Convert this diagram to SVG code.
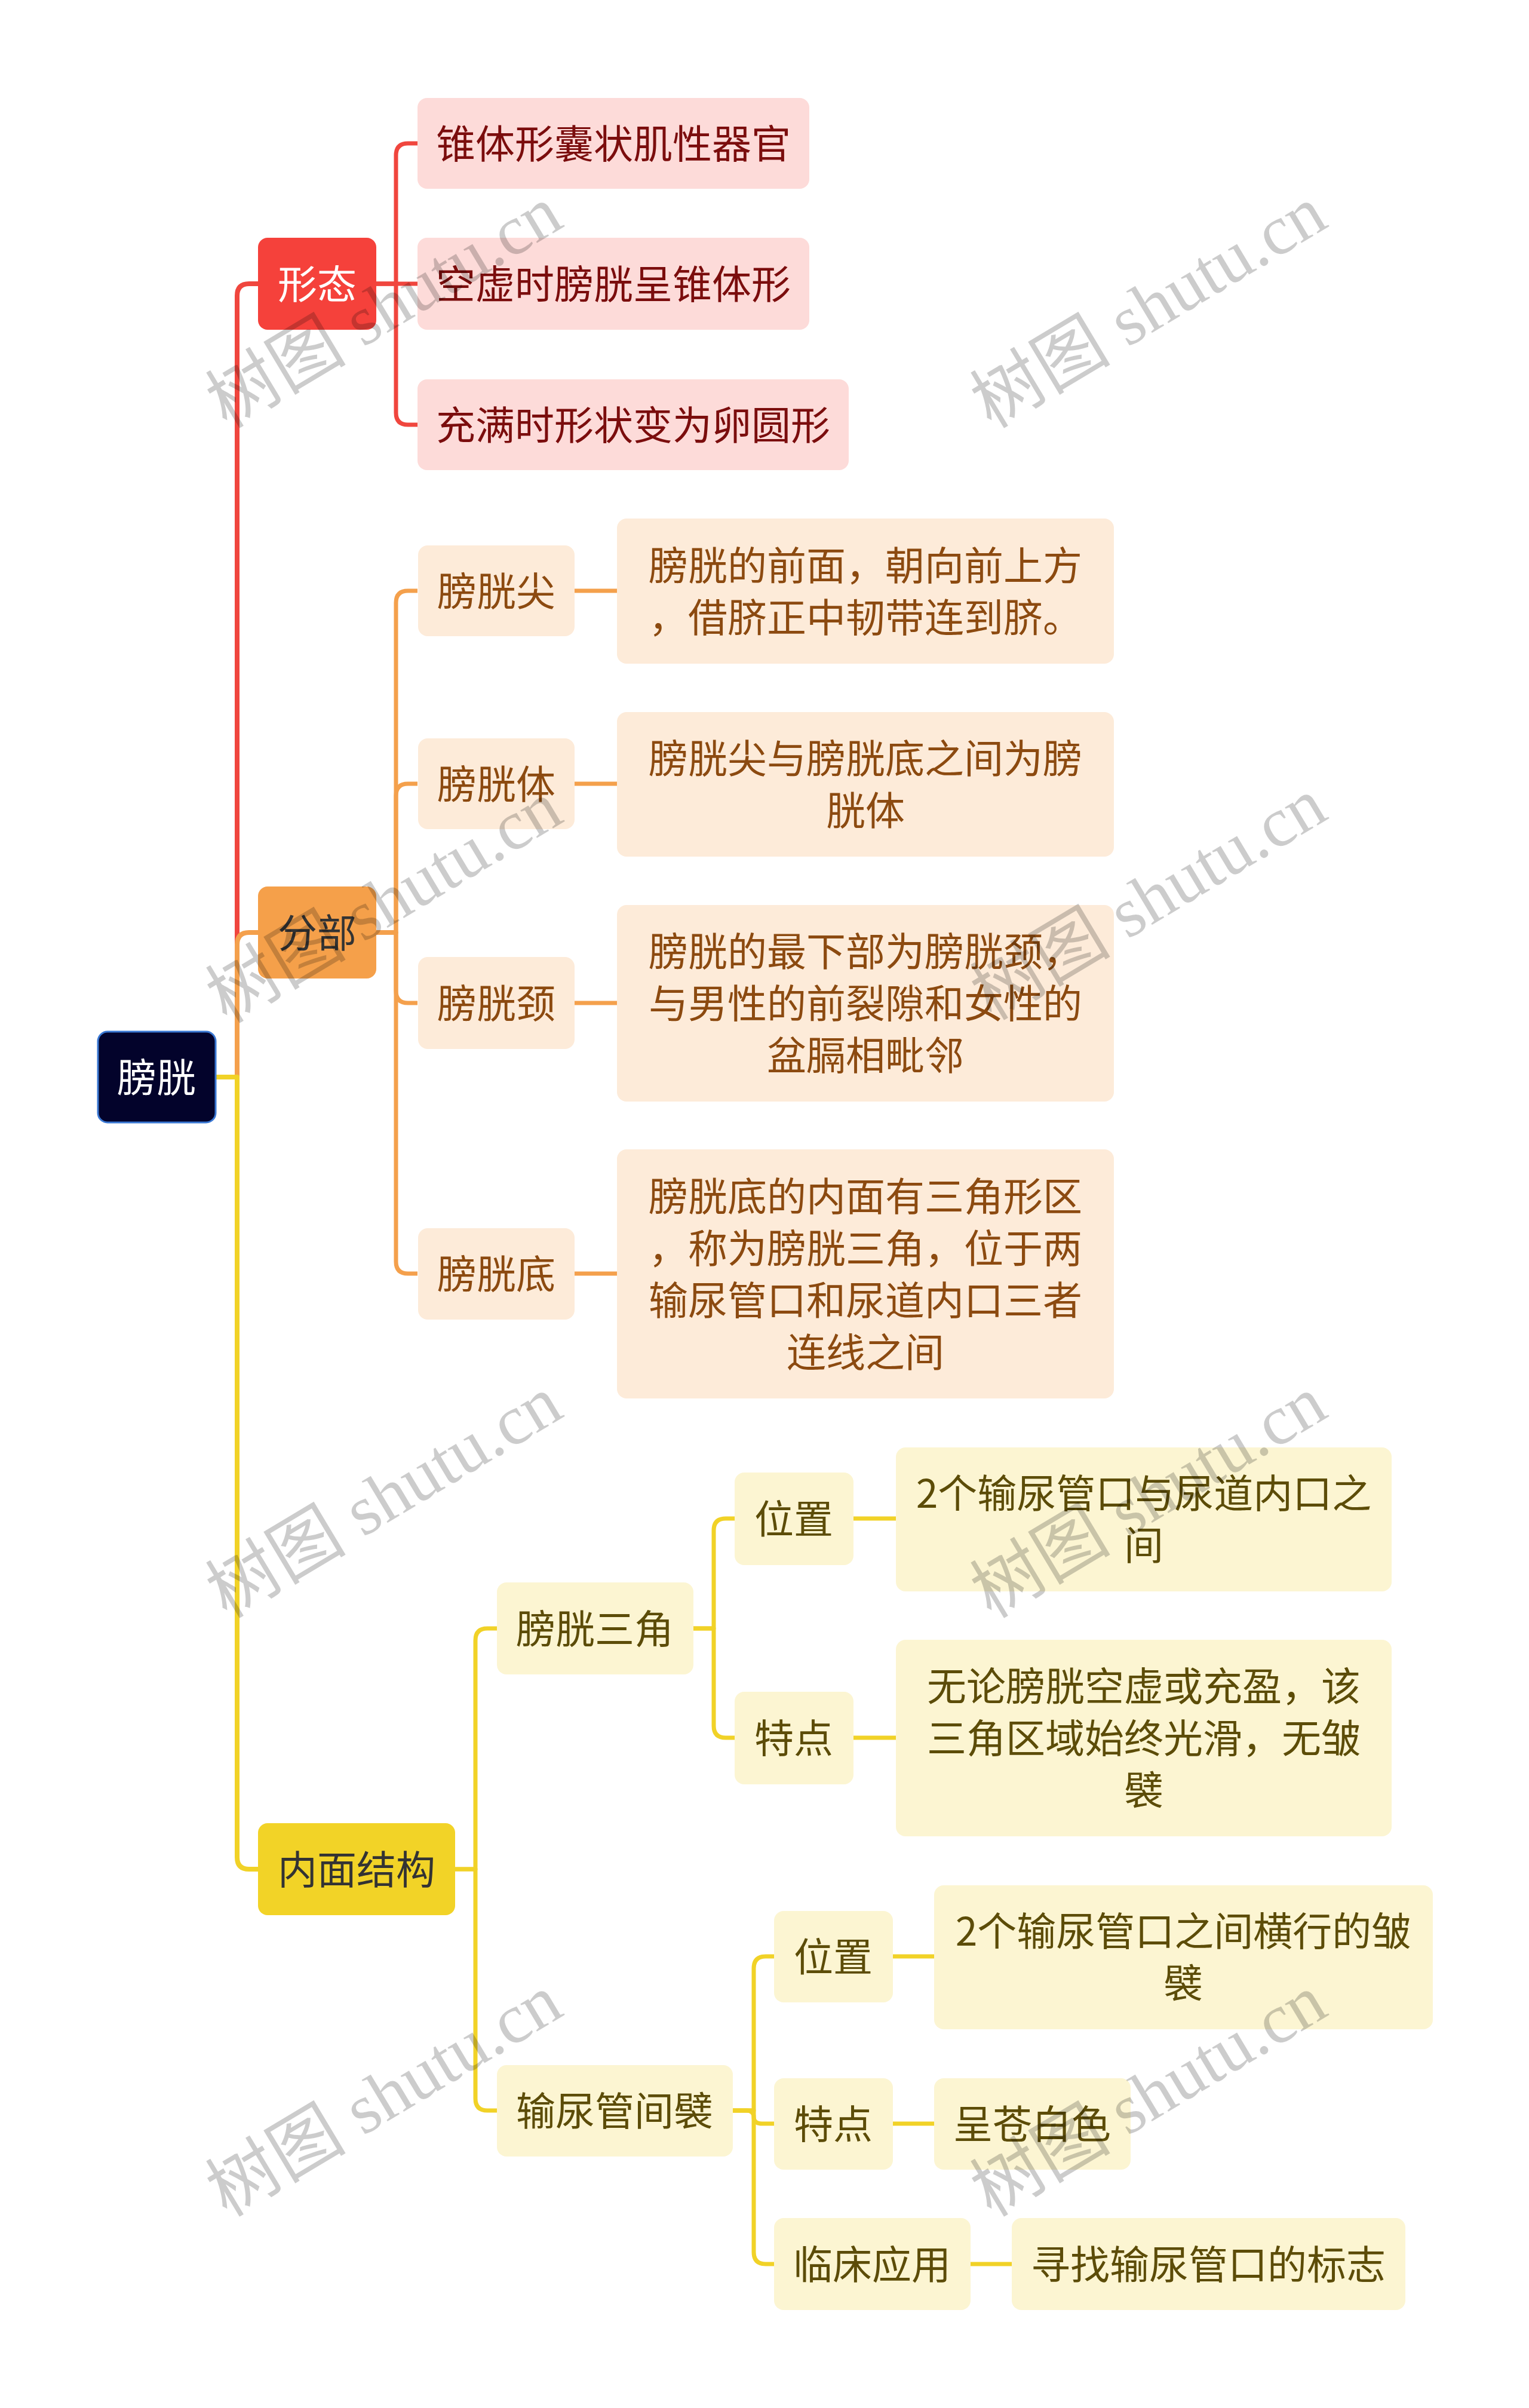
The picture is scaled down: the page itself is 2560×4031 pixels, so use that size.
<svg xmlns="http://www.w3.org/2000/svg" width="2560" height="4031" viewBox="0 0 2560 4031">
<style>
text{font-family:"Noto Sans CJK SC","Noto Sans",sans-serif;font-size:66px;text-anchor:middle}
.ln{fill:none;stroke-width:7;stroke-linecap:butt;stroke-linejoin:round}
.l1{stroke-width:8}
.red{stroke:#f0463e}.org{stroke:#f4a04c}.yel{stroke:#f1d227}
.rl{fill:#fddbd9}.rt{fill:#7b0d0d}
.ol{fill:#fdebd9}.ot{fill:#8c4a10}
.yl{fill:#fcf5d2}.yt{fill:#5c4c08}
.wm{font-family:"Liberation Serif","Noto Sans CJK SC",serif;font-size:118px;fill:#000;fill-opacity:0.2;text-anchor:middle}
</style>
<rect width="2560" height="4031" fill="#ffffff"/>
<g id="connectors">
<path class="ln l1 red" d="M362 1803 H397 V495 Q397 475 417 475 H432"/>
<path class="ln l1 org" d="M362 1803 H397 V1581 Q397 1561 417 1561 H432"/>
<path class="ln l1 yel" d="M362 1803 H397 V3109 Q397 3129 417 3129 H432"/>
<path class="ln red" d="M630 475 H663 V260 Q663 240 683 240 H699"/>
<path class="ln red" d="M630 475 H699"/>
<path class="ln red" d="M630 475 H663 V691 Q663 711 683 711 H699"/>
<path class="ln org" d="M630 1561 H663 V1009 Q663 989 683 989 H699"/>
<path class="ln org" d="M630 1561 H663 V1332 Q663 1312 683 1312 H699"/>
<path class="ln org" d="M630 1561 H663 V1659 Q663 1679 683 1679 H699"/>
<path class="ln org" d="M630 1561 H663 V2112 Q663 2132 683 2132 H699"/>
<path class="ln org" d="M962 989 H1033"/>
<path class="ln org" d="M962 1312 H1033"/>
<path class="ln org" d="M962 1679 H1033"/>
<path class="ln org" d="M962 2132 H1033"/>
<path class="ln yel" d="M762 3129 H796 V2746 Q796 2726 816 2726 H832"/>
<path class="ln yel" d="M762 3129 H796 V3513 Q796 3533 816 3533 H832"/>
<path class="ln yel" d="M1161 2726 H1195 V2562 Q1195 2542 1215 2542 H1230"/>
<path class="ln yel" d="M1161 2726 H1195 V2889 Q1195 2909 1215 2909 H1230"/>
<path class="ln yel" d="M1429 2542 H1500"/>
<path class="ln yel" d="M1429 2909 H1500"/>
<path class="ln yel" d="M1227 3533 H1262 V3295 Q1262 3275 1282 3275 H1296"/>
<path class="ln yel" d="M1227 3533 H1250 Q1262 3533 1262 3544 Q1262 3555 1276 3555 H1296"/>
<path class="ln yel" d="M1227 3533 H1262 V3770 Q1262 3790 1282 3790 H1296"/>
<path class="ln yel" d="M1495 3275 H1564"/>
<path class="ln yel" d="M1495 3555 H1564"/>
<path class="ln yel" d="M1625 3790 H1694"/>
</g>
<g id="root">
<rect x="164" y="1727" width="197" height="152" rx="16" fill="#03032b" stroke="#3a78d4" stroke-width="3"/>
<text x="262" y="1828" fill="#ffffff">膀胱</text>
</g>
<g id="xingtai">
<rect x="432" y="398" width="198" height="154" rx="16" fill="#f5413b"/>
<text x="531" y="500" fill="#ffffff">形态</text>
</g>
<g id="xingtai-1"><rect x="699" y="164" width="656" height="152" rx="16" class="rl"/><text x="1027" y="265" class="rt">锥体形囊状肌性器官</text></g>
<g id="xingtai-2"><rect x="699" y="398" width="656" height="154" rx="16" class="rl"/><text x="1027" y="500" class="rt">空虚时膀胱呈锥体形</text></g>
<g id="xingtai-3"><rect x="699" y="635" width="722" height="152" rx="16" class="rl"/><text x="1060" y="736" class="rt">充满时形状变为卵圆形</text></g>
<g id="fenbu">
<rect x="432" y="1484" width="198" height="154" rx="16" fill="#f5a04a"/>
<text x="531" y="1586" fill="#333333">分部</text>
</g>
<g id="jian"><rect x="700" y="913" width="262" height="152" rx="16" class="ol"/><text x="831" y="1014" class="ot">膀胱尖</text></g>
<g id="jian-d"><rect x="1033" y="868" width="832" height="243" rx="16" class="ol"/><text x="1449" y="971" class="ot">膀胱的前面，朝向前上方</text><text x="1449" y="1058" class="ot">，借脐正中韧带连到脐。</text></g>
<g id="ti"><rect x="700" y="1236" width="262" height="152" rx="16" class="ol"/><text x="831" y="1337" class="ot">膀胱体</text></g>
<g id="ti-d"><rect x="1033" y="1192" width="832" height="242" rx="16" class="ol"/><text x="1449" y="1294" class="ot">膀胱尖与膀胱底之间为膀</text><text x="1449" y="1381" class="ot">胱体</text></g>
<g id="jing"><rect x="700" y="1602" width="262" height="154" rx="16" class="ol"/><text x="831" y="1704" class="ot">膀胱颈</text></g>
<g id="jing-d"><rect x="1033" y="1515" width="832" height="329" rx="16" class="ol"/><text x="1449" y="1617" class="ot">膀胱的最下部为膀胱颈，</text><text x="1449" y="1704" class="ot">与男性的前裂隙和女性的</text><text x="1449" y="1791" class="ot">盆膈相毗邻</text></g>
<g id="di"><rect x="700" y="2056" width="262" height="153" rx="16" class="ol"/><text x="831" y="2157" class="ot">膀胱底</text></g>
<g id="di-d"><rect x="1033" y="1924" width="832" height="417" rx="16" class="ol"/><text x="1449" y="2027" class="ot">膀胱底的内面有三角形区</text><text x="1449" y="2114" class="ot">，称为膀胱三角，位于两</text><text x="1449" y="2201" class="ot">输尿管口和尿道内口三者</text><text x="1449" y="2288" class="ot">连线之间</text></g>
<g id="neimian">
<rect x="432" y="3052" width="330" height="154" rx="16" fill="#f2d327"/>
<text x="597" y="3154" fill="#333333">内面结构</text>
</g>
<g id="sanjiao"><rect x="832" y="2649" width="329" height="154" rx="16" class="yl"/><text x="996" y="2751" class="yt">膀胱三角</text></g>
<g id="sj-weizhi"><rect x="1230" y="2465" width="199" height="155" rx="16" class="yl"/><text x="1329" y="2567" class="yt">位置</text></g>
<g id="sj-weizhi-d"><rect x="1500" y="2423" width="830" height="241" rx="16" class="yl"/><text x="1915" y="2524" class="yt">2个输尿管口与尿道内口之</text><text x="1915" y="2611" class="yt">间</text></g>
<g id="sj-tedian"><rect x="1230" y="2832" width="199" height="155" rx="16" class="yl"/><text x="1329" y="2934" class="yt">特点</text></g>
<g id="sj-tedian-d"><rect x="1500" y="2745" width="830" height="329" rx="16" class="yl"/><text x="1915" y="2847" class="yt">无论膀胱空虚或充盈，该</text><text x="1915" y="2934" class="yt">三角区域始终光滑，无皱</text><text x="1915" y="3021" class="yt">襞</text></g>
<g id="jianbi"><rect x="832" y="3457" width="395" height="153" rx="16" class="yl"/><text x="1029" y="3558" class="yt">输尿管间襞</text></g>
<g id="jb-weizhi"><rect x="1296" y="3199" width="199" height="153" rx="16" class="yl"/><text x="1395" y="3300" class="yt">位置</text></g>
<g id="jb-weizhi-d"><rect x="1564" y="3156" width="835" height="241" rx="16" class="yl"/><text x="1981" y="3257" class="yt">2个输尿管口之间横行的皱</text><text x="1981" y="3344" class="yt">襞</text></g>
<g id="jb-tedian"><rect x="1296" y="3479" width="199" height="153" rx="16" class="yl"/><text x="1395" y="3580" class="yt">特点</text></g>
<g id="jb-tedian-d"><rect x="1564" y="3479" width="329" height="153" rx="16" class="yl"/><text x="1728" y="3580" class="yt">呈苍白色</text></g>
<g id="jb-linchuang"><rect x="1296" y="3713" width="329" height="154" rx="16" class="yl"/><text x="1460" y="3815" class="yt">临床应用</text></g>
<g id="jb-linchuang-d"><rect x="1694" y="3713" width="659" height="154" rx="16" class="yl"/><text x="2023" y="3815" class="yt">寻找输尿管口的标志</text></g>
<g id="watermarks">
<text class="wm" transform="translate(643 514) rotate(-31)" y="40">树图 shutu.cn</text>
<text class="wm" transform="translate(1923 514) rotate(-31)" y="40">树图 shutu.cn</text>
<text class="wm" transform="translate(643 1510) rotate(-31)" y="40">树图 shutu.cn</text>
<text class="wm" transform="translate(1923 1505) rotate(-31)" y="40">树图 shutu.cn</text>
<text class="wm" transform="translate(643 2506) rotate(-31)" y="40">树图 shutu.cn</text>
<text class="wm" transform="translate(1923 2506) rotate(-31)" y="40">树图 shutu.cn</text>
<text class="wm" transform="translate(643 3508) rotate(-31)" y="40">树图 shutu.cn</text>
<text class="wm" transform="translate(1923 3508) rotate(-31)" y="40">树图 shutu.cn</text>
</g>
</svg>
